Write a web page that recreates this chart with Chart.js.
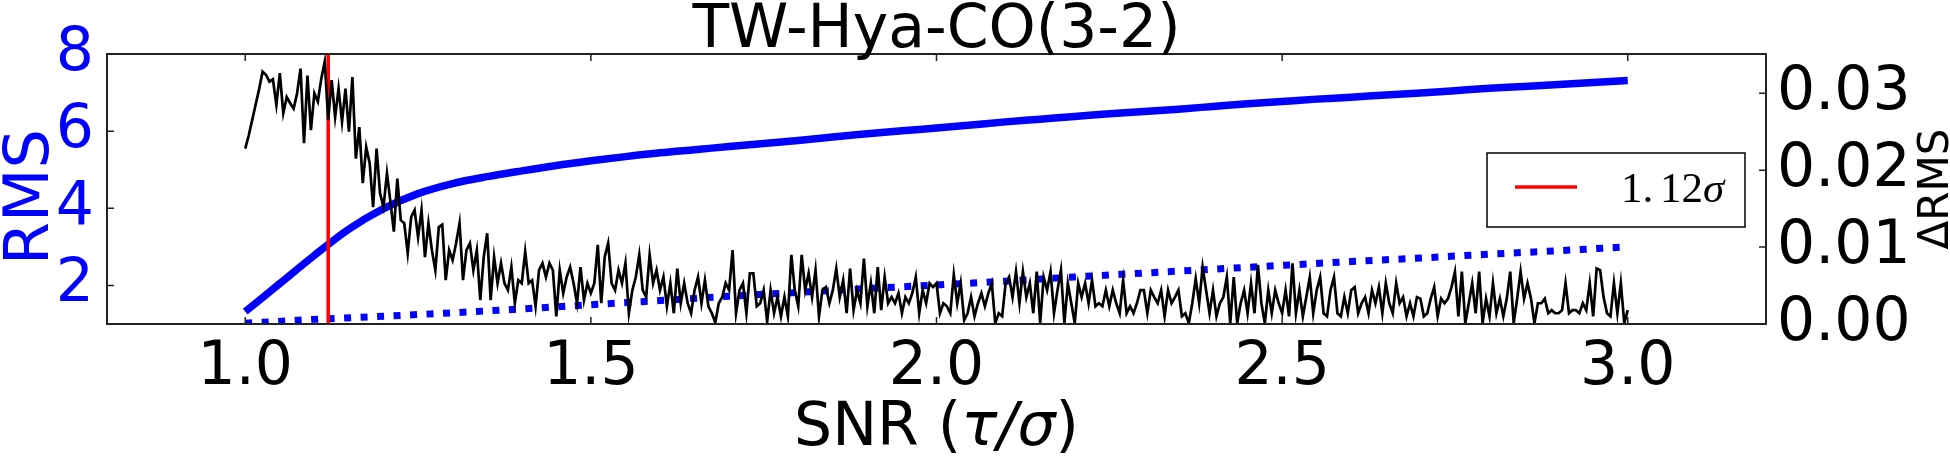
<!DOCTYPE html>
<html>
<head>
<meta charset="utf-8">
<title>TW-Hya-CO(3-2)</title>
<script src="https://cdn.jsdelivr.net/npm/chart.js@4.4.1/dist/chart.umd.min.js"></script>
<style>
  html, body { margin: 0; padding: 0; background: #fff; overflow: hidden; }
  canvas { display: block; }
</style>
</head>
<body>
<canvas id="snrChart" width="1950" height="462"></canvas>
<script>
/* ---- data ---- */

// x ticks / axis tick labels
const X_TICKS        = [1.0, 1.5, 2.0, 2.5, 3.0];
const Y_LEFT_TICKS   = [2, 4, 6, 8];
const Y_RIGHT_TICKS  = [0, 10, 20, 30];            // in units of 1e-3
const Y_RIGHT_LABELS = ['0.00', '0.01', '0.02', '0.03'];

// threshold marker
const THRESHOLD = 1.12;

// RMS (solid blue), sampled every 0.05 in SNR
const snrSolid = [1.00, 1.05, 1.10, 1.15, 1.20, 1.25, 1.30, 1.35, 1.40, 1.45,
                  1.50, 1.55, 1.60, 1.65, 1.70, 1.75, 1.80, 1.85, 1.90, 1.95,
                  2.00, 2.05, 2.10, 2.15, 2.20, 2.25, 2.30, 2.35, 2.40, 2.45,
                  2.50, 2.55, 2.60, 2.65, 2.70, 2.75, 2.80, 2.85, 2.90, 2.95, 3.00];
const rmsSolid = [1.32, 2.05, 2.78, 3.46, 3.99, 4.38, 4.64, 4.82, 4.97, 5.11,
                  5.23, 5.34, 5.44, 5.52, 5.60, 5.68, 5.76, 5.85, 5.93, 6.01,
                  6.08, 6.16, 6.24, 6.31, 6.38, 6.45, 6.51, 6.57, 6.64, 6.71,
                  6.77, 6.83, 6.88, 6.94, 6.99, 7.05, 7.11, 7.16, 7.21, 7.26, 7.31];

// RMS (dotted blue), sampled every 0.1 in SNR
const snrDotted = [1.0, 1.1, 1.2, 1.3, 1.4, 1.5, 1.6, 1.7, 1.8, 1.9, 2.0,
                   2.1, 2.2, 2.3, 2.4, 2.5, 2.6, 2.7, 2.8, 2.9, 3.0];
const rmsDotted = [1.02, 1.12, 1.20, 1.29, 1.39, 1.50, 1.61, 1.72, 1.82, 1.92, 2.01,
                   2.11, 2.22, 2.32, 2.42, 2.52, 2.62, 2.71, 2.81, 2.90, 3.00];

// dRMS (black, right axis), in units of 1e-3, one value every 0.005 from SNR 1.0
const SNR_START = 1.0;
const SNR_STEP  = 0.005;
const dRmsMilli = [
  22.8, 24.5, 26.5, 28.5, 30.5, 32.8, 32.4, 31.5, 31.8, 28.5,
  32.6, 27.4, 29.5, 28.7, 28.0, 30.0, 33.2, 23.5, 32.3, 25.2,
  30.0, 28.9, 31.9, 34.1, 26.5, 31.7, 26.9, 30.6, 26.3, 30.6,
  25.0, 32.1, 21.5, 25.6, 18.3, 23.0, 20.9, 15.2, 22.8, 17.0,
  15.2, 19.6, 15.9, 12.0, 18.9, 13.5, 13.1, 9.2, 13.9, 14.8,
  11.3, 14.8, 8.7, 13.1, 9.6, 7.0, 12.6, 12.9, 5.7, 9.6,
  8.3, 10.5, 13.1, 5.7, 9.6, 10.5, 7.0, 9.6, 3.1,
  8.7, 11.8, 3.1, 8.7, 5.3, 7.9, 5.3, 4.4, 7.4, 2.7,
  5.7, 5.3, 9.4, 5.3, 5.7, 2.3, 7.0, 7.9, 6.1, 7.9,
  7.0, 1.0, 7.0, 4.0, 6.1, 7.4, 5.3, 2.7, 7.4, 3.1,
  5.3, 4.0, 5.3, 10.3, 2.7, 8.7, 10.5, 5.3, 4.4, 7.0,
  5.3, 7.9, 1.4, 4.4, 6.1, 9.0, 4.4, 3.5, 9.0, 5.3,
  7.0, 4.4, 6.1, 2.3, 5.3, 1.4, 7.2, 2.7, 5.3, 2.7,
  1.4, 4.4, 6.1, 2.7, 5.7, 2.3,
  1.4, 0.2, 2.7, 3.5, 5.3, 4.4, 9.6, 1.4, 4.4, 5.3,
  1.4, 6.6, 6.6, 2.3, 2.7, 4.4, 0.3, 4.4, 1.4, 3.5,
  1.0, 3.5, 1.0, 9.0, 4.4, 2.3, 9.0, 4.4, 6.6, 3.5,
  7.0, 1.0, 4.4, 4.8, 2.7, 4.4, 7.2, 3.5, 5.7, 1.4,
  7.2, 1.8, 4.4, 2.7, 8.5, 2.3, 5.3, 1.4, 7.4, 1.8,
  6.1, 2.7, 3.5, 2.7, 4.0, 1.4, 3.5, 2.7, 4.0, 6.1,
  1.4, 4.4, 2.7, 5.3, 4.8, 5.3, 1.4,
  2.7, 2.3, 1.4, 6.4, 2.7, 5.3, 0.5, 1.4, 3.5, 1.0,
  2.7, 4.0, 2.3, 4.0, 5.3, 0.1, 1.4, 1.0, 5.3, 6.1,
  3.5, 6.8, 2.7, 6.8, 3.5, 5.3, 1.4, 6.8, 0.1, 6.1,
  4.4, 6.8, 1.4, 4.4, 7.0, 0.1, 5.3, 2.7, 0.1, 5.3,
  3.5, 5.3, 2.7, 5.7, 2.3, 2.7, 2.3, 4.4, 2.3, 4.4,
  2.7, 1.4, 5.7, 1.4, 2.3, 1.4, 2.7, 4.4, 4.4, 1.4,
  4.4, 3.5, 2.7, 4.4, 1.0, 4.4, 2.7,
  3.5, 4.4, 1.0, 1.4, 0.1, 2.7, 5.9, 2.7, 7.4, 4.4,
  1.4, 4.4, 1.0, 2.7, 3.5, 6.1, 0.1, 6.1, 0.1, 2.7,
  4.4, 1.4, 5.3, 1.4, 7.7, 2.7, 0.1, 4.4, 1.4, 4.4,
  2.7, 1.4, 4.4, 1.0, 7.9, 1.4, 4.4, 1.0, 3.5, 6.1,
  1.4, 4.4, 6.1, 1.4, 1.0, 4.4, 6.1, 1.4, 1.0, 3.5,
  1.4, 4.4, 4.8, 1.4, 2.7, 3.5, 1.4, 4.4, 2.7, 4.8,
  1.4, 5.3, 2.7, 1.4, 5.3, 2.7,
  3.5, 1.0, 2.7, 1.0, 3.5, 3.3, 1.0, 1.4, 3.3, 4.8,
  1.0, 3.3, 2.7, 3.3, 4.8, 6.8, 1.0, 6.8, 0.1, 2.7,
  5.3, 1.4, 6.8, 0.1, 3.3, 1.0, 5.3, 1.4, 3.3, 1.0,
  3.3, 6.8, 0.1, 3.3, 6.8, 3.3, 5.3, 3.3, 0.1, 2.7,
  2.7, 3.3, 1.4, 1.8, 1.4, 1.4, 1.8, 5.3, 1.4, 1.8,
  1.8, 1.4, 2.7, 1.8, 5.3, 1.0, 7.2, 7.0, 3.5, 1.4,
  1.0, 5.3, 1.4, 5.3, 0.1, 1.8
];

/* ---- look ---- */
const BLUE  = '#0000ff';
const FONT  = '"DejaVu Sans", sans-serif';
const FRAME = '#222222';

function pairs(xs, ys) { return xs.map((x, i) => ({ x: x, y: ys[i] })); }

const dRmsPoints = dRmsMilli.map((v, i) => ({ x: SNR_START + i * SNR_STEP, y: v }));

// frame, inward ticks, axis titles, legend
const decor = {
  id: 'decor',
  afterDraw(chart) {
    const { ctx, chartArea: a, scales } = chart;
    ctx.save();

    // inward tick marks
    ctx.strokeStyle = FRAME;
    ctx.lineWidth = 1.5;
    ctx.beginPath();
    X_TICKS.forEach(v => {
      const px = scales.x.getPixelForValue(v);
      ctx.moveTo(px, a.bottom); ctx.lineTo(px, a.bottom - 7);
      ctx.moveTo(px, a.top);    ctx.lineTo(px, a.top + 7);
    });
    Y_LEFT_TICKS.forEach(v => {
      const py = scales.yL.getPixelForValue(v);
      ctx.moveTo(a.left, py); ctx.lineTo(a.left + 7, py);
    });
    Y_RIGHT_TICKS.forEach(v => {
      const py = scales.yR.getPixelForValue(v);
      ctx.moveTo(a.right, py); ctx.lineTo(a.right - 7, py);
    });
    ctx.stroke();

    // frame
    ctx.lineWidth = 2;
    ctx.strokeRect(a.left, a.top, a.right - a.left, a.bottom - a.top);

    // title
    ctx.fillStyle = '#000';
    ctx.font = '60px ' + FONT;
    ctx.textAlign = 'center';
    ctx.textBaseline = 'alphabetic';
    ctx.fillText('TW-Hya-CO(3-2)', (a.left + a.right) / 2, 47);

    // x title: SNR (τ/σ)
    const parts = [['SNR (', '60px ' + FONT], ['τ/σ', 'italic 60px ' + FONT], [')', '60px ' + FONT]];
    let total = 0;
    parts.forEach(p => { ctx.font = p[1]; total += ctx.measureText(p[0]).width; });
    let x = (a.left + a.right) / 2 - total / 2;
    ctx.textAlign = 'left';
    parts.forEach(p => { ctx.font = p[1]; ctx.fillText(p[0], x, 445); x += ctx.measureText(p[0]).width; });

    // left y title
    ctx.save();
    ctx.translate(48, 197);
    ctx.rotate(-Math.PI / 2);
    ctx.textAlign = 'center';
    ctx.fillStyle = BLUE;
    ctx.font = '62px ' + FONT;
    ctx.fillText('RMS', 0, 0);
    ctx.restore();

    // right y title
    ctx.save();
    ctx.translate(1948, (a.top + a.bottom) / 2);
    ctx.rotate(-Math.PI / 2);
    ctx.textAlign = 'center';
    ctx.fillStyle = '#000';
    ctx.font = '42px ' + FONT;
    ctx.fillText('ΔRMS', 0, 0);
    ctx.restore();

    // legend box
    ctx.fillStyle = '#fff';
    ctx.fillRect(1487, 153, 258, 74);
    ctx.strokeStyle = '#000';
    ctx.lineWidth = 1.5;
    ctx.strokeRect(1487, 153, 258, 74);
    ctx.strokeStyle = '#ff0000';
    ctx.lineWidth = 3.5;
    ctx.beginPath(); ctx.moveTo(1515, 187); ctx.lineTo(1577, 187); ctx.stroke();
    ctx.fillStyle = '#000';
    ctx.textAlign = 'left';
    ctx.font = '43px "Liberation Serif", serif';
    ctx.fillText('1.', 1621, 202);
    ctx.fillText('12', 1660, 202);
    ctx.font = 'italic 43px "Liberation Serif", serif';
    ctx.fillText('σ', 1703, 202);

    ctx.restore();
  }
};

new Chart(document.getElementById('snrChart'), {
  type: 'line',
  data: {
    datasets: [
      { label: 'dRMS', data: dRmsPoints, yAxisID: 'yR', borderColor: '#000', borderWidth: 2.7,
        pointRadius: 0, tension: 0, order: 0 },
      { label: '1.12σ', data: [{ x: THRESHOLD, y: 1 }, { x: THRESHOLD, y: 8 }], yAxisID: 'yL',
        borderColor: '#ff0000', borderWidth: 3.5, pointRadius: 0, order: 1 },
      { label: 'RMS', data: pairs(snrSolid, rmsSolid), yAxisID: 'yL', borderColor: BLUE, borderWidth: 7.5,
        pointRadius: 0, cubicInterpolationMode: 'monotone', order: 2 },
      { label: 'RMS dotted', data: pairs(snrDotted, rmsDotted), yAxisID: 'yL', borderColor: BLUE,
        borderWidth: 7, borderDash: [7, 9.5], borderCapStyle: 'butt', pointRadius: 0, order: 3 }
    ]
  },
  options: {
    responsive: false, animation: false, devicePixelRatio: 1,
    layout: { padding: { top: 54, left: 0, right: 0, bottom: 0 } },
    plugins: { legend: { display: false }, tooltip: { enabled: false }, title: { display: false } },
    scales: {
      x: {
        type: 'linear', min: 0.8, max: 3.2,
        afterFit: s => { s.height = 138; },
        afterBuildTicks: s => { s.ticks = X_TICKS.map(v => ({ value: v })); },
        ticks: { font: { family: FONT, size: 60 }, color: '#000', padding: 0, autoSkip: false,
                 maxRotation: 0, callback: v => v.toFixed(1) },
        grid: { display: false }, border: { display: false }
      },
      yL: {
        type: 'linear', position: 'left', min: 1, max: 8,
        afterFit: s => { s.width = 107; },
        afterBuildTicks: s => { s.ticks = Y_LEFT_TICKS.map(v => ({ value: v })); },
        ticks: { font: { family: FONT, size: 60 }, color: BLUE, padding: 5, autoSkip: false },
        grid: { display: false }, border: { display: false }
      },
      yR: {
        type: 'linear', position: 'right', min: 0, max: 35.1,
        afterFit: s => { s.width = 184; },
        afterBuildTicks: s => { s.ticks = Y_RIGHT_TICKS.map(v => ({ value: v })); },
        ticks: { font: { family: FONT, size: 60 }, color: '#000', padding: 3, autoSkip: false,
                 callback: (v, i) => Y_RIGHT_LABELS[i] },
        grid: { display: false }, border: { display: false }
      }
    }
  },
  plugins: [decor]
});
</script>
</body>
</html>
